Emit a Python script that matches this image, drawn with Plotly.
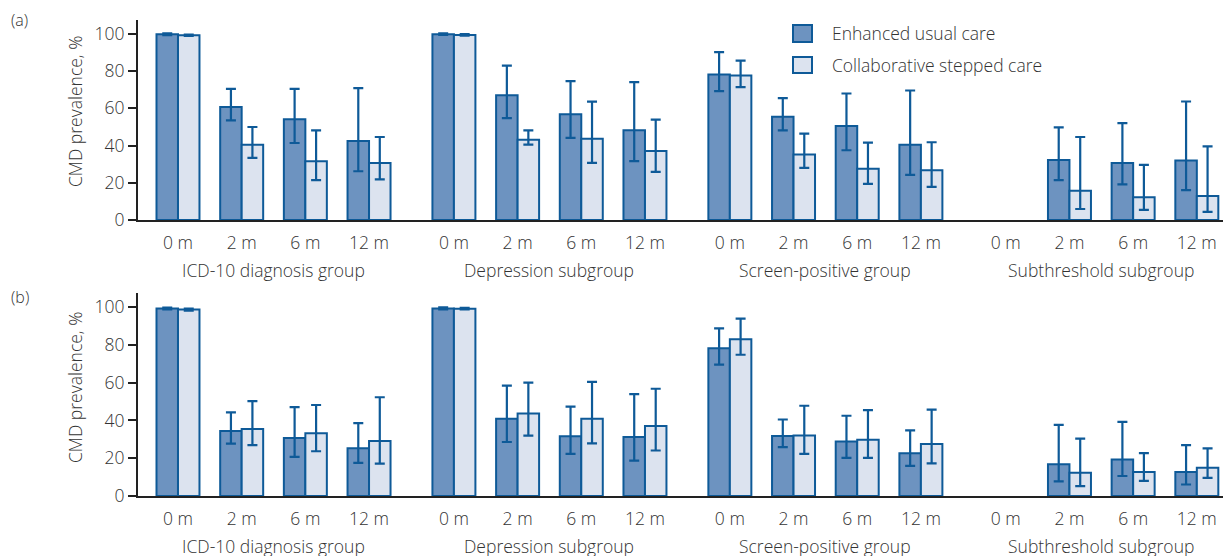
import plotly.graph_objects as go

# design coordinates are the reference picture's pixels (1223 x 556)
REF_W, REF_H = 1223, 556
W, H = 1223, 567

groups = ["ICD-10 diagnosis group", "Depression subgroup", "Screen-positive group", "Subthreshold subgroup"]
times = ["0 m", "2 m", "6 m", "12 m"]
series_names = ["Enhanced usual care", "Collaborative stepped care"]

# Panel (a)
euc_a = [99.8, 60.7, 54.1, 42.5, 99.9, 67.1, 56.8, 48.2, 78.2, 55.5, 50.5, 40.5, None, 32.3, 30.7, 32.0]
euc_a_hi = [100.3, 70.5, 70.5, 70.9, 100.3, 83.0, 74.6, 74.1, 90.2, 65.5, 68.0, 69.6, None, 49.8, 52.1, 63.7]
euc_a_lo = [99.3, 53.6, 41.4, 26.2, 99.5, 54.8, 44.1, 31.6, 69.3, 48.2, 37.5, 24.3, None, 21.4, 19.1, 16.1]
csc_a = [99.3, 40.5, 31.6, 30.7, 99.5, 43.2, 43.7, 37.1, 77.7, 35.2, 27.5, 26.8, None, 15.7, 12.2, 12.9]
csc_a_hi = [99.7, 50.0, 48.2, 44.6, 99.9, 48.2, 63.6, 53.9, 85.7, 46.4, 41.6, 41.8, None, 44.6, 29.6, 39.6]
csc_a_lo = [98.9, 33.4, 21.4, 21.8, 99.1, 40.5, 30.7, 25.9, 71.4, 28.0, 19.4, 17.8, None, 5.9, 5.4, 4.4]

# Panel (b)
euc_b = [99.3, 34.4, 30.7, 25.3, 99.3, 40.9, 31.6, 31.2, 78.2, 31.8, 28.8, 22.7, None, 16.8, 19.3, 12.7]
euc_b_hi = [99.8, 44.3, 47.1, 38.6, 99.9, 58.5, 47.3, 53.9, 88.8, 40.5, 42.5, 34.8, None, 37.7, 39.3, 26.9]
euc_b_lo = [98.8, 27.7, 20.7, 17.5, 98.8, 28.6, 22.3, 18.7, 69.6, 25.9, 20.2, 15.9, None, 7.7, 10.6, 6.1]
csc_b = [98.7, 35.5, 33.2, 29.1, 99.2, 43.7, 40.9, 37.1, 83.0, 32.1, 29.8, 27.5, None, 12.3, 12.7, 15.0]
csc_b_hi = [99.2, 50.2, 48.2, 52.3, 99.6, 60.0, 60.4, 56.8, 93.9, 47.8, 45.5, 45.7, None, 30.4, 22.7, 25.2]
csc_b_lo = [98.2, 26.9, 23.7, 17.1, 98.8, 32.0, 27.9, 24.1, 74.8, 22.3, 20.2, 17.3, None, 5.2, 8.0, 9.6]

y_ticks = [0, 20, 40, 60, 80, 100]

# layout constants
GROUP_STEP = 4.333
DARK = "#6d93c0"
LIGHT = "#dce3ef"
EDGE = "#0e5a98"
TXT = "#333333"
AX = "#222222"
FONT = "Open Sans"
FS = 17.5
FW = 300

xpos = [g * GROUP_STEP + s for g in range(len(groups)) for s in range(len(times))]
xlabels = [t for g in groups for t in times]
group_centers = [g * GROUP_STEP + 1.5 for g in range(len(groups))]


def px(xp):
    return xp / REF_W


def py(yp):
    return 1 - yp / REF_H


def errs(v, hi, lo):
    up = [(h - x) if x is not None else None for x, h in zip(v, hi)]
    dn = [(x - l) if x is not None else None for x, l in zip(v, lo)]
    return up, dn


def tfont(size=FS):
    return dict(family=FONT, size=size, color=TXT, weight=FW)


fig = go.Figure()

panels = [
    ("x", "y", [(euc_a, euc_a_hi, euc_a_lo), (csc_a, csc_a_hi, csc_a_lo)]),
    ("x2", "y2", [(euc_b, euc_b_hi, euc_b_lo), (csc_b, csc_b_hi, csc_b_lo)]),
]
fills = [DARK, LIGHT]
for xa, ya, sers in panels:
    for i, (v, hi, lo) in enumerate(sers):
        up, dn = errs(v, hi, lo)
        fig.add_trace(go.Bar(
            x=xpos, y=v, name=series_names[i], xaxis=xa, yaxis=ya,
            marker=dict(color=fills[i], line=dict(color=EDGE, width=2)),
            error_y=dict(type="data", symmetric=False, array=up, arrayminus=dn,
                         color=EDGE, thickness=2.2, width=5),
            showlegend=False,
        ))

dom_a = [py(220), py(20)]
dom_b = [py(496), py(293)]
xrange = [-0.628, 16.41]

xcommon = dict(range=xrange, domain=[px(138), 1], tickmode="array", tickvals=xpos, ticktext=xlabels,
               showline=True, linecolor=AX, linewidth=2, ticks="", showgrid=False, zeroline=False,
               tickfont=tfont(), ticklabelstandoff=6, fixedrange=True)
ycommon = dict(range=[0, 107.5], tickmode="array", tickvals=y_ticks, showline=True, linecolor=AX,
               linewidth=2, ticks="outside", ticklen=8, tickwidth=1.5, tickcolor=AX, showgrid=False,
               zeroline=False, tickfont=tfont(), fixedrange=True)

fig.update_layout(
    width=W, height=H, margin=dict(l=0, r=0, t=0, b=0),
    paper_bgcolor="white", plot_bgcolor="white",
    barmode="group", bargap=0.325, bargroupgap=0,
    xaxis=dict(**xcommon, anchor="y"),
    yaxis=dict(**ycommon, domain=dom_a, anchor="x"),
    xaxis2=dict(**xcommon, anchor="y2"),
    yaxis2=dict(**ycommon, domain=dom_b, anchor="x2"),
    font=dict(family=FONT, color=TXT),
)

ann = []
for gi, gname in enumerate(groups):
    for xa, ypx in (("x", 270), ("x2", 546)):
        ann.append(dict(x=group_centers[gi], xref=xa, y=py(ypx), yref="paper", text=gname,
                        showarrow=False, xanchor="center", yanchor="middle", font=tfont()))
for ycen in (112, 388):
    ann.append(dict(x=px(75), xref="paper", y=py(ycen), yref="paper", text="CMD prevalence, %",
                    textangle=-90, showarrow=False, xanchor="center", yanchor="middle", font=tfont()))
for lab, ypx in (("(a)", 20), ("(b)", 297)):
    ann.append(dict(x=px(9), xref="paper", y=py(ypx), yref="paper", text=lab, showarrow=False,
                    xanchor="left", yanchor="middle", font=tfont(16)))

shapes = []
for i, (ytop, ybot, ycen) in enumerate(((25, 42, 33.5), (57, 73, 65))):
    shapes.append(dict(type="rect", xref="paper", yref="paper", x0=px(793), x1=px(812),
                       y0=py(ybot), y1=py(ytop), fillcolor=fills[i],
                       line=dict(color=EDGE, width=2)))
    ann.append(dict(x=px(830), xref="paper", y=py(ycen), yref="paper", text=series_names[i],
                    showarrow=False, xanchor="left", yanchor="middle", font=tfont()))

fig.update_layout(annotations=ann, shapes=shapes)
fig.write_html("out.html", config={"displayModeBar": False},
               post_script="document.body.style.margin='0';document.body.style.overflow='hidden';")
